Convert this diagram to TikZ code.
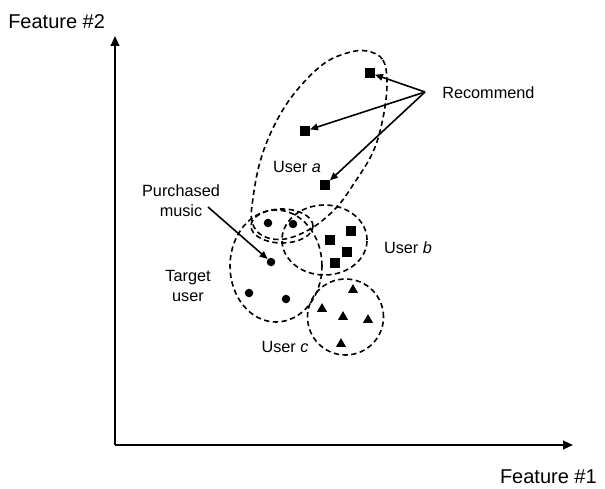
\documentclass[tikz,border=0pt]{standalone}
\usepackage{fontspec}
\setmainfont{Liberation Sans}
\usetikzlibrary{arrows.meta,shapes.geometric}
\begin{document}
\begin{tikzpicture}[x=0.75pt,y=-0.75pt,
  axis/.style={line width=1.5pt,-{Triangle[length=7.5pt,width=6.5pt]}},
  grp/.style={dashed,line width=1.2pt,dash pattern=on 4pt off 2.6pt},
  ptr/.style={line width=1.2pt,-{Triangle[length=6pt,width=5pt]}},
  dot/.style={circle,fill=black,inner sep=0pt,minimum size=6.4pt},
  sq/.style={rectangle,fill=black,inner sep=0pt,minimum size=7pt},
  tri/.style={regular polygon,regular polygon sides=3,fill=black,inner sep=0pt,minimum size=8.8pt},
  lbl/.style={font=\fontsize{12.2}{15}\selectfont,inner sep=0pt},
  flbl/.style={font=\fontsize{15}{18}\selectfont,inner sep=0pt}]
\useasboundingbox (0,0) rectangle (605,488);
% axes
\coordinate (O) at (115,445);
\coordinate (xe) at (573,445);
\coordinate (ye) at (115,36);
\draw[axis] (O) -- (xe);
\draw[axis] (O) -- (ye);
\node[flbl,anchor=west] (f2) at (8,22) {Feature \#2};
\node[flbl,anchor=east] (f1) at (597,477) {Feature \#1};
% user a region
\draw[grp] plot[smooth cycle,tension=0.6] coordinates {
 (367,51) (383,60) (387,84) (383,118) (373,152) (353,185) (336,208)
 (312,228) (285,239) (263,236) (252,222) (253,198) (260,162) (273,128)
 (293,95) (322,65) (347,53)};
% other regions
\draw[grp] (282,226) ellipse [x radius=23.25pt,y radius=12.75pt];
\draw[grp] (324.5,240) ellipse [x radius=31.9pt,y radius=26.25pt];
\draw[grp] (276,266) ellipse [x radius=34.5pt,y radius=42pt];
\draw[grp] (345.5,317) ellipse [x radius=28.5pt,y radius=28.5pt];
% user a items
\node[sq] (a1) at (370,73) {};
\node[sq] (a2) at (305,131) {};
\node[sq] (a3) at (325,185) {};
% target user dots
\node[dot] (t1) at (268,223) {};
\node[dot] (t2) at (293,224) {};
\node[dot] (t3) at (271,262) {};
\node[dot] (t4) at (249,293) {};
\node[dot] (t5) at (286,299) {};
% user b squares
\node[sq] (b1) at (351,231) {};
\node[sq] (b2) at (330,240) {};
\node[sq] (b3) at (347,252) {};
\node[sq] (b4) at (335,263) {};
% user c triangles
\node[tri] (c1) at (353,290) {};
\node[tri] (c2) at (322,309) {};
\node[tri] (c3) at (343,317) {};
\node[tri] (c4) at (368,320) {};
\node[tri] (c5) at (341,344) {};
% labels
\node[lbl] (ua) at (297,167) {User \textit{a}};
\node[lbl] (ub) at (408,248) {User \textit{b}};
\node[lbl] (uc) at (285,347) {User \textit{c}};
\node[lbl,align=center] (pm) at (181,201) {Purchased\\music};
\node[lbl,align=center] (tu) at (188,285.5) {Target\\user};
\node[lbl,anchor=west] (rec) at (442,93) {Recommend};
% arrows
\coordinate (rs) at (425,92);
\coordinate (ps) at (208,207);
\draw[ptr] (rs) -- (a1);
\draw[ptr] (rs) -- (a2);
\draw[ptr] (rs) -- (a3);
\draw[ptr] (ps) -- (t3);
\end{tikzpicture}
\end{document}
